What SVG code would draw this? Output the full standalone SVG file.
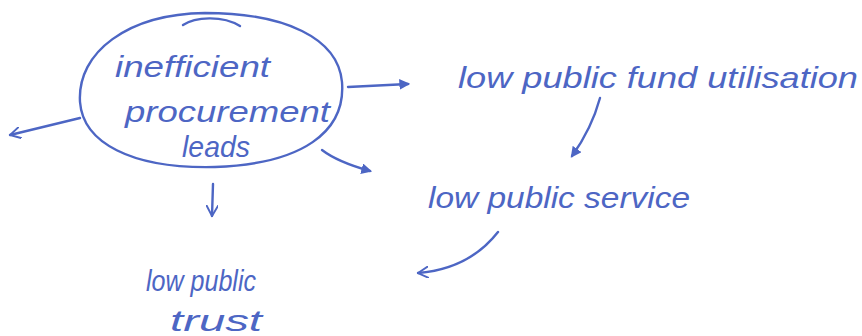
<svg xmlns="http://www.w3.org/2000/svg" width="862" height="336" viewBox="0 0 862 336">
  <style>
    .ink { fill: none; stroke: #4d66c4; stroke-width: 2.4; stroke-linecap: round; stroke-linejoin: round; }
    .txt { font-family: "Liberation Sans", "DejaVu Sans", sans-serif; font-style: italic; fill: #4d66c4; font-size: 29px; }
  </style>
  <defs>
    <marker id="solid" viewBox="0 0 10 10" refX="8" refY="5" markerWidth="4.5" markerHeight="4.5" orient="auto" markerUnits="strokeWidth">
      <path d="M0,0 L10,5 L0,10 Z" fill="#4d66c4"/>
    </marker>
    <marker id="open" viewBox="0 0 10 10" refX="9" refY="5" markerWidth="5" markerHeight="5" orient="auto" markerUnits="strokeWidth">
      <path d="M0,0 L9,5 L0,10" fill="none" stroke="#4d66c4" stroke-width="1.6" stroke-linecap="round"/>
    </marker>
  </defs>
  <rect width="862" height="336" fill="#ffffff"/>

  <!-- central cause bubble -->
  <g id="cause">
    <path class="ink" d="M205,13 C285,13 338,38 342,82 C346,132 302,164 215,167 C130,169 83,142 80,102 C77,52 128,14 205,13 Z"/>
    <path class="ink" d="M183,25 C195,17 222,15 240,26"/>
    <text class="txt" x="115" y="77" textLength="155" lengthAdjust="spacingAndGlyphs">inefficient</text>
    <text class="txt" x="125" y="122" textLength="205" lengthAdjust="spacingAndGlyphs">procurement</text>
    <text class="txt" x="182" y="157" textLength="68" lengthAdjust="spacingAndGlyphs">leads</text>
  </g>

  <g id="fund">
    <text class="txt" x="458" y="88" textLength="400" lengthAdjust="spacingAndGlyphs">low public fund utilisation</text>
  </g>

  <g id="service">
    <text class="txt" x="428" y="208" textLength="262" lengthAdjust="spacingAndGlyphs">low public service</text>
  </g>

  <g id="trust">
    <text class="txt" x="146" y="291" textLength="110" lengthAdjust="spacingAndGlyphs">low public</text>
    <text class="txt" x="170" y="331" textLength="92" lengthAdjust="spacingAndGlyphs">trust</text>
  </g>

  <!-- connectors -->
  <g id="connectors">
    <path class="ink" d="M348,87 L408,84" marker-end="url(#solid)"/>
    <path class="ink" d="M80,118 L10,135" marker-end="url(#open)"/>
    <path class="ink" d="M322,150 C335,160 352,166 370,171" marker-end="url(#solid)"/>
    <path class="ink" d="M213,184 L212,216" marker-end="url(#open)"/>
    <path class="ink" d="M600,98 C594,120 585,138 572,156" marker-end="url(#solid)"/>
    <path class="ink" d="M498,232 C480,255 455,270 418,273" marker-end="url(#open)"/>
  </g>
</svg>
